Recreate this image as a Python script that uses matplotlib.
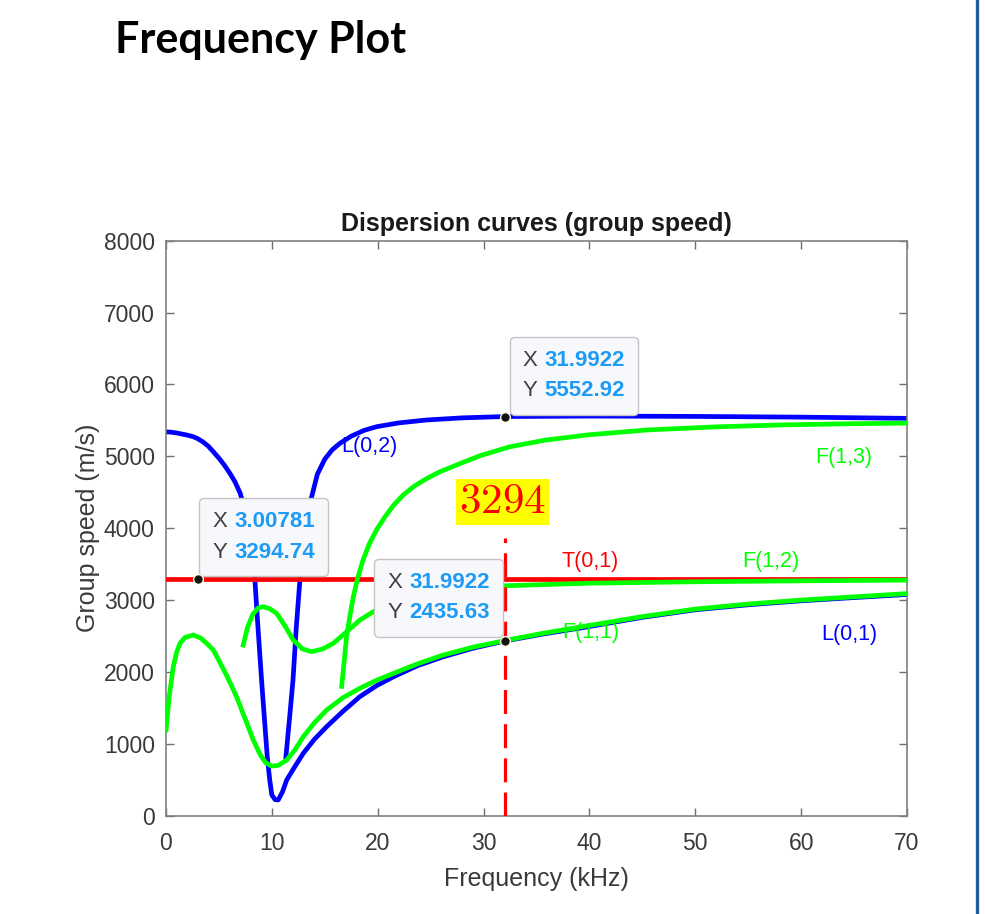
import numpy as np
import matplotlib
matplotlib.use("Agg")
import matplotlib.pyplot as plt
from matplotlib.offsetbox import TextArea, HPacker, VPacker, AnnotationBbox

plt.rcParams['font.family'] = ['Liberation Sans', 'DejaVu Sans']

# values (kHz, m/s)
l01_f = [0, 0.5, 1, 1.5, 2, 2.58, 3, 3.5, 4, 4.47, 5, 5.5, 6.04, 6.5, 7.0,
         7.4, 7.8, 8.1, 8.4, 8.7, 9.03, 9.3, 9.57, 9.8, 10.0, 10.3, 10.6, 11.0,
         11.4, 12.2, 12.97, 14.0, 15.17, 16.7, 18.3, 19.9, 21.5, 23.8, 26.2,
         29, 31.99, 35.5, 39.3, 45, 50, 55, 60, 65, 70]
l01_v = [5340, 5336, 5325, 5310, 5295, 5273, 5245, 5200, 5140, 5064, 4975,
         4880, 4763, 4650, 4490, 4290, 4010, 3700, 3278, 2600, 1888, 1350, 817,
         500, 289, 225, 219, 330, 496, 690, 868, 1060, 1238, 1450, 1655, 1810,
         1934, 2090, 2212, 2330, 2430, 2525, 2615, 2760, 2865, 2935, 2990, 3035,
         3078]

l02_f = [11.33, 11.7, 12.0, 12.3, 12.65, 12.9, 13.2, 13.7, 14.3, 15.0, 15.7,
         16.43, 17.5, 18.7, 19.9, 22, 24.6, 28, 31.99, 40, 50, 60, 70]
l02_v = [821, 1400, 1888, 2600, 3278, 3700, 4000, 4400, 4750, 4960, 5090,
         5181, 5280, 5360, 5412, 5465, 5505, 5535, 5553, 5560, 5555, 5545, 5528]

f11_f = [0, 0.3, 0.69, 1.0, 1.32, 1.8, 2.58, 3.3, 3.9, 4.47, 5.0, 5.8, 6.67,
         7.5, 8.25, 8.9, 9.4, 9.98, 10.6, 11.4, 12.2, 12.97, 14.0, 15.17, 16.7,
         18.3, 19.9, 21.5, 23.8, 26.2, 29, 31.99, 35.5, 39.3, 45, 50, 55, 60,
         65, 70]
f11_v = [1192, 1650, 2073, 2270, 2398, 2480, 2514, 2470, 2390, 2305, 2160,
         1930, 1655, 1340, 1053, 850, 740, 691, 700, 775, 920, 1099, 1290, 1470,
         1640, 1772, 1885, 1981, 2115, 2236, 2345, 2436, 2535, 2630, 2770, 2875,
         2945, 3000, 3045, 3090]

f12_f = [7.3, 7.7, 8.2, 8.7, 9.19, 9.8, 10.45, 11.2, 12.02, 12.9, 13.76, 14.8,
         15.8, 17, 18.32, 19.58, 21, 23, 26, 29, 32.2, 40, 50, 60, 70]
f12_v = [2375, 2620, 2800, 2890, 2908, 2880, 2816, 2650, 2444, 2320, 2282,
         2320, 2398, 2550, 2722, 2838, 2950, 3050, 3130, 3180, 3200, 3235, 3255,
         3268, 3278]

f13_f = [16.6, 16.8, 17.06, 17.4, 17.7, 18.1, 18.6, 19.2, 19.9, 20.7, 21.5,
         22.4, 23.4, 24.5, 25.8, 27.8, 29.7, 32.5, 35.9, 40, 45.4, 52, 58, 64,
         70]
f13_v = [1800, 2100, 2490, 2800, 3047, 3300, 3550, 3780, 3980, 4160, 4320,
         4460, 4580, 4680, 4780, 4900, 5010, 5133, 5227, 5300, 5366, 5410, 5436,
         5452, 5462]

t01_v = 3294.74
cut_f = 31.9922
cut_top = 3863

tips = [(3.00781, 3294.74), (31.9922, 2435.63), (31.9922, 5552.92)]
tip_text = [('3.00781', '3294.74'), ('31.9922', '2435.63'), ('31.9922', '5552.92')]

mode_labels = ['L(0,2)', 'F(1,3)', 'T(0,1)', 'F(1,2)', 'F(1,1)', 'L(0,1)']
label_pos = [(16.6, 5130), (61.3, 4990), (37.4, 3530), (54.4, 3530),
             (37.4, 2555), (61.9, 2515)]
label_col = ['#0000ff', '#00ff00', '#ff0000', '#00ff00', '#00ff00', '#0000ff']

fig = plt.figure(figsize=(9.85, 9.14), dpi=100)
ax = fig.add_axes([0.1685, 0.1075, 0.7523, 0.6292])

lw = 3.4
ax.plot(l01_f, l01_v, color='#0000ff', lw=lw, zorder=2)
ax.plot(l02_f, l02_v, color='#0000ff', lw=lw, zorder=2)
ax.plot([0, 70], [t01_v, t01_v], color='#ff0000', lw=lw, zorder=3)
ax.plot(f11_f, f11_v, color='#00ff00', lw=lw, zorder=4)
ax.plot(f12_f, f12_v, color='#00ff00', lw=lw, zorder=4)
ax.plot(f13_f, f13_v, color='#00ff00', lw=lw, zorder=4)
ax.plot([cut_f, cut_f], [0, cut_top], color='#ff0000', lw=2.3,
        linestyle=(0, (7.5, 3.2)), zorder=5)

for lab, (x, y), c in zip(mode_labels, label_pos, label_col):
    ax.text(x, y, lab, color=c, fontsize=15.5, ha='left', va='center', zorder=6)

ax.text(31.77, 4364, r'$\mathrm{3294}$', color='#ff0000', fontsize=31,
        math_fontfamily='cm', ha='center', va='center', zorder=6,
        bbox=dict(boxstyle='square,pad=0.07', fc='#ffff00', ec='none'))

ax.plot([p[0] for p in tips], [p[1] for p in tips], 'o', color='#111111',
        mec='#fffbe0', mew=1.0, ms=7, zorder=8)

offsets = [((10.5, 11.7), (0, 0)), ((-10.9, 12.4), (1, 0)), ((13.1, 10.9), (0, 0))]
for (x, y), (xs, ys), (off, align) in zip(tips, tip_text, offsets):
    rows = []
    for k, v in (('X', xs), ('Y', ys)):
        rows.append(HPacker(children=[
            TextArea(k, textprops=dict(color='#404040', size=16)),
            TextArea(v, textprops=dict(color='#1e9bf5', size=16, weight='bold'))],
            sep=5, pad=0, align='baseline'))
    pack = VPacker(children=rows, sep=7, pad=0, align='left')
    ab = AnnotationBbox(pack, (x, y), xybox=off, xycoords='data',
                        boxcoords='offset points', box_alignment=align,
                        frameon=True, fontsize=10,
                        bboxprops=dict(boxstyle='round,pad=0.95,rounding_size=0.35',
                                       fc='#f7f8fc', ec='#c4c4c4', lw=1.0))
    ab.set_zorder(7)
    ax.add_artist(ab)

ax.set_xlim(0, 70)
ax.set_ylim(0, 8000)
ax.set_xticks(np.arange(0, 71, 10))
ax.set_yticks(np.arange(0, 8001, 1000))
ax.tick_params(direction='in', length=6, width=1, colors='#707070',
               labelcolor='#3a3a3a', labelsize=16.5, top=True, right=True)
ax.tick_params(axis='x', pad=12)
ax.tick_params(axis='y', pad=8)
for s in ax.spines.values():
    s.set_color('#808080')
    s.set_linewidth(1.2)

ax.set_title('Dispersion curves (group speed)', fontsize=18, fontweight='bold',
             color='#1a1a1a', pad=7)
ax.set_xlabel('Frequency (kHz)', fontsize=18, color='#3a3a3a', labelpad=8)
ax.set_ylabel('Group speed (m/s)', fontsize=18, color='#3a3a3a', labelpad=3)

fig.text(115 / 985, 1 - 40 / 914, 'Frequency Plot', fontsize=31, fontweight='bold',
         family='Lato', ha='left', va='center', color='black')
fig.add_artist(plt.Line2D([977 / 985, 977 / 985], [0, 1], color='#1f5e9c',
                          lw=2.4, transform=fig.transFigure))

fig.savefig('out.png', dpi=100)
